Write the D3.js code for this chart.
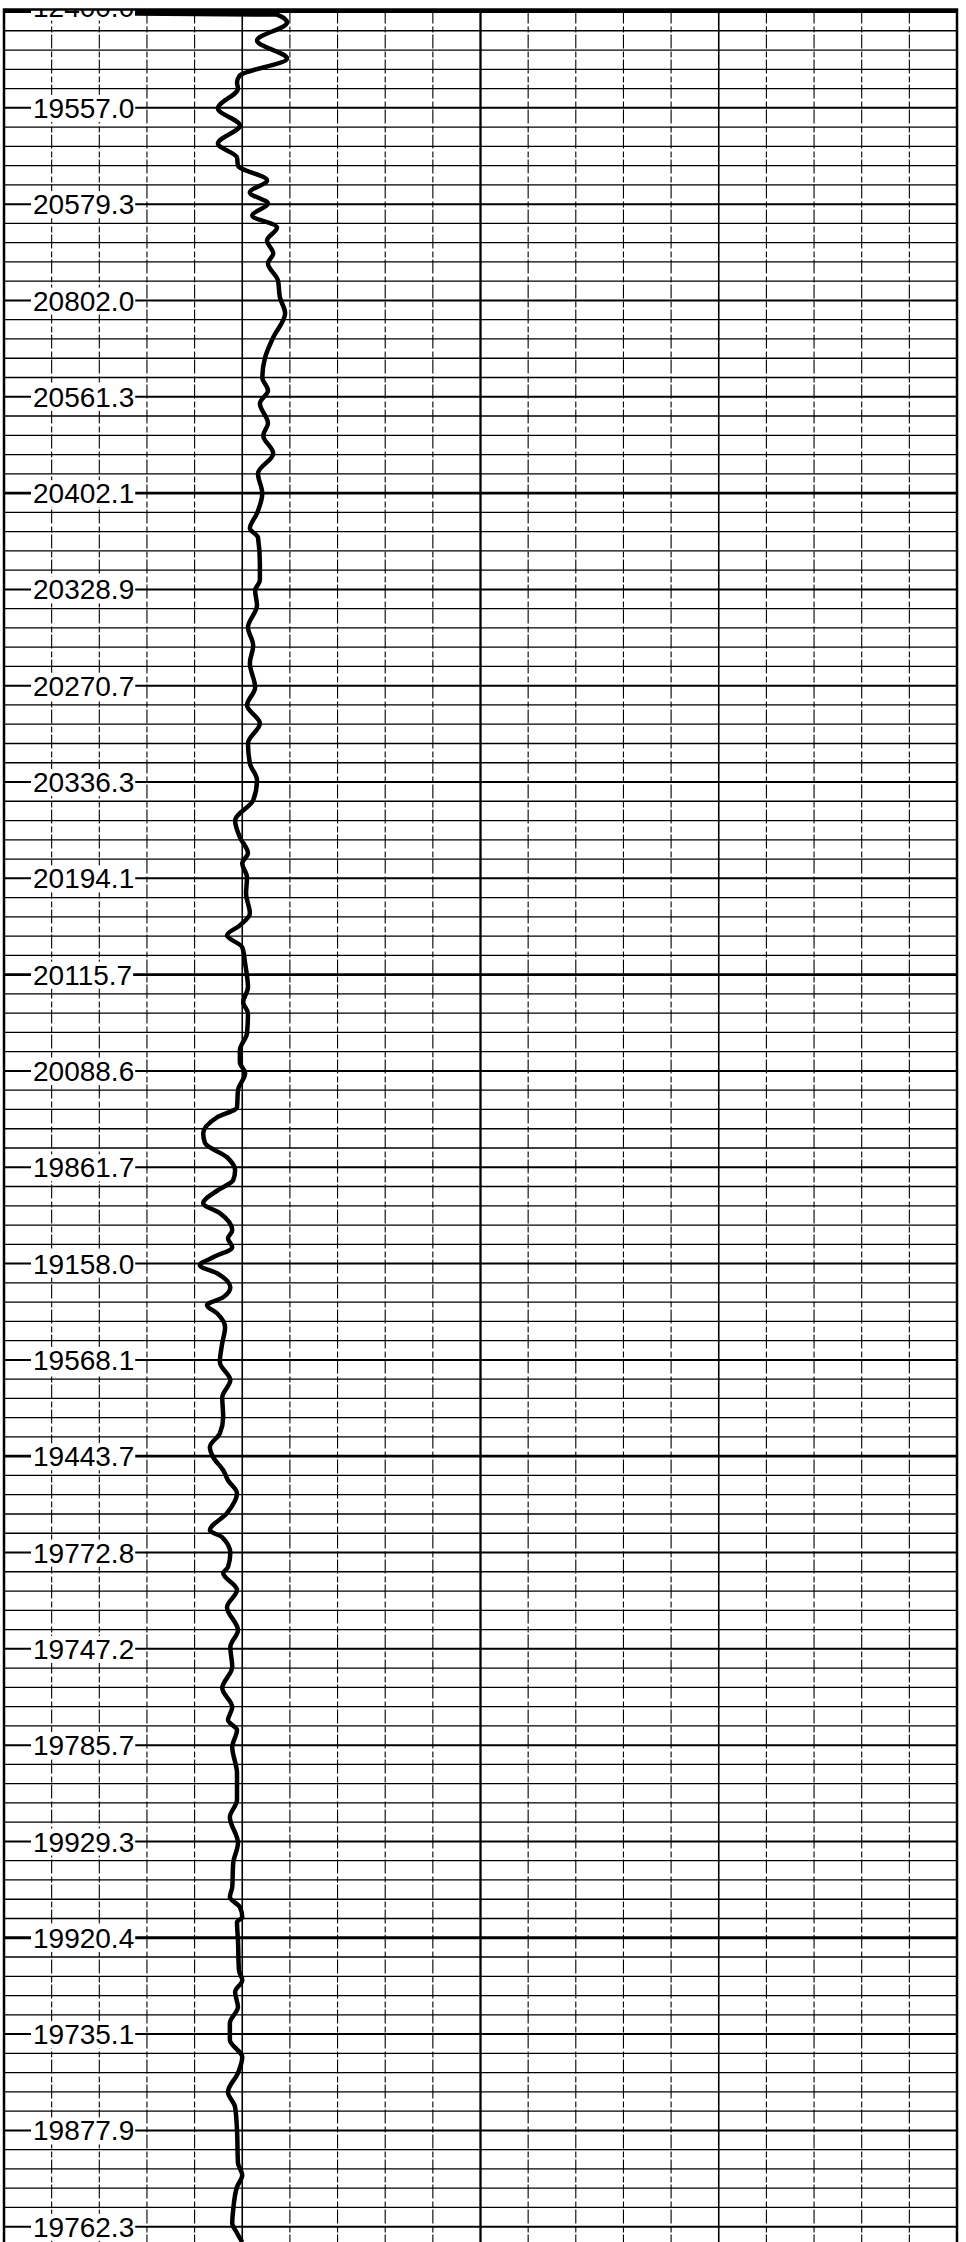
<!DOCTYPE html>
<html>
<head>
<meta charset="utf-8">
<script src="https://cdn.jsdelivr.net/npm/d3@7"></script>
<style>
	body { margin: 0; background: #fff; }
	svg { display: block; }
	.label { font-family: "Liberation Sans", Arial, sans-serif; font-size: 28px; fill: #000; }
</style>
</head>
<body>
<svg id="myGraph" width="966" height="2242"></svg>
<script>
// depth labels, one every 5 grid rows
var labelTexts = ["12400.0","19557.0","20579.3","20802.0","20561.3","20402.1","20328.9","20270.7",
	"20336.3","20194.1","20115.7","20088.6","19861.7","19158.0","19568.1","19443.7",
	"19772.8","19747.2","19785.7","19929.3","19920.4","19735.1","19877.9","19762.3"];

// curve: depth in grid rows, value on a 0-200 scale (10 per column)
var curveDepth = [0.10,0.16,0.57,1.51,2.44,3.32,3.69,4.00,5.03,5.92,
	6.85,7.58,8.00,8.77,9.39,9.97,10.59,11.21,11.89,12.56,
	13.08,13.96,14.84,15.67,16.92,17.96,19.00,19.67,20.35,21.38,
	22.01,22.94,23.98,25.02,26.05,26.83,27.30,28.65,29.53,30.05,
	30.83,31.97,32.91,33.84,35.09,36.02,36.95,37.99,39.03,39.91,
	40.95,42.00,42.87,43.70,44.22,44.95,45.78,46.82,47.44,47.96,
	48.58,49.41,50.66,51.43,52.01,53.04,53.93,54.55,55.12,56.00,
	56.89,57.41,58.24,58.75,59.48,60.15,60.67,61.19,61.87,62.38,
	63.27,63.69,64.15,64.67,65.09,65.50,66.23,66.75,67.16,67.58,
	68.30,69.13,70.12,71.05,71.94,72.98,73.81,74.53,75.05,75.73,
	76.25,76.92,77.96,78.85,79.21,80.03,80.76,81.07,81.95,82.84,
	84.03,84.91,85.95,87.04,88.03,88.70,89.22,90.10,91.45,92.85,
	93.74,95.08,96.12,97.37,97.89,98.41,98.93,99.19,100.12,101.68,
	102.20,102.82,103.60,104.43,105.31,106.19,107.02,108.01,108.79,109.98,
	111.70,112.32,112.94,114.13,114.81,115.33,115.80];
var curveValue = [27.5,57.3,59.4,53.1,59.4,49.5,48.9,49.1,44.9,49.5,
	44.9,48.9,49.1,55.2,51.6,55.4,52.1,57.3,55.2,56.5,
	55.4,57.5,57.9,59.0,56.5,54.8,54.2,55.4,53.7,55.4,
	54.4,56.5,53.3,54.2,53.1,51.6,53.3,53.7,53.7,52.7,
	53.1,51.2,52.3,51.6,52.7,51.0,53.7,51.2,51.6,53.1,
	52.3,48.5,49.5,51.2,50.0,51.0,50.8,51.6,49.5,46.8,
	50.0,50.6,51.2,50.2,51.2,51.0,49.5,49.5,50.6,49.1,
	48.9,44.7,41.8,42.2,46.8,48.5,48.1,44.9,41.8,45.3,
	47.9,47.0,47.9,43.9,41.1,44.7,47.5,46.0,42.6,44.7,
	46.4,45.8,45.3,47.5,45.8,46.0,45.3,43.2,43.9,46.0,
	47.0,48.9,46.8,43.2,45.8,47.5,47.0,46.0,48.9,46.8,
	49.1,47.5,47.9,45.8,47.9,47.0,48.9,47.9,48.9,48.9,
	47.4,49.1,48.1,47.9,47.4,49.5,50.0,48.9,49.1,49.3,
	50.0,48.5,49.1,47.4,47.4,50.0,49.1,47.0,48.5,48.9,
	49.1,50.0,48.9,48.1,47.9,48.9,50.0];

window.addEventListener("load", function(){

	var left = 4, right = 957, top = 9.5, bottom = 2242;

	var xScale = d3.scaleLinear().domain([0, 200]).range([left, right]);
	var yScale = d3.scaleLinear().domain([0, 115]).range([11.5, 2226.7]);

	var svg = d3.select("#myGraph");

	svg.append("defs").append("clipPath").attr("id", "plot")
		.append("rect")
		.attr("x", left).attr("y", top)
		.attr("width", right - left).attr("height", bottom - top);

	var g = svg.append("g").attr("clip-path", "url(#plot)");

	// horizontal grid (every row, heavier each 5 and 25 rows)
	g.selectAll("line.hgrid")
		.data(d3.range(0, 117))
		.enter().append("line")
		.attr("class", "hgrid")
		.attr("x1", left).attr("x2", right)
		.attr("y1", function(d){ return yScale(d); })
		.attr("y2", function(d){ return yScale(d); })
		.style("stroke", "#000")
		.style("stroke-width", function(d){
			if (d % 25 === 0) return 2.8;
			if (d % 5 === 0) return 2;
			return 1.3;
		});

	// vertical grid
	g.selectAll("line.vgrid")
		.data(d3.range(10, 200, 10))
		.enter().append("line")
		.attr("class", "vgrid")
		.attr("x1", function(d){ return xScale(d); })
		.attr("x2", function(d){ return xScale(d); })
		.attr("y1", top).attr("y2", bottom)
		.style("stroke", "#000")
		.style("stroke-width", function(d){
			if (d === 100) return 2.3;
			if (d % 50 === 0) return 1.6;
			return 1.1;
		})
		.style("stroke-dasharray", function(d){
			return d % 50 === 0 ? null : "14,3,6,2";
		});

	// depth labels on a white patch
	var labels = g.selectAll("g.lab")
		.data(labelTexts)
		.enter().append("g")
		.attr("class", "lab")
		.attr("transform", function(d, i){
			// the first label is half hidden under the top frame
			var y = yScale(i * 5) - (i === 0 ? 5 : 0);
			return "translate(33," + y + ")";
		});

	labels.append("text")
		.attr("class", "label")
		.attr("dy", "0.36em")
		.text(function(d){ return d; });

	labels.each(function(){
		var box = d3.select(this).select("text").node().getBBox();
		d3.select(this).insert("rect", "text")
			.attr("x", box.x - 2).attr("y", box.y + 2)
			.attr("width", box.width + 3).attr("height", box.height - 4)
			.style("fill", "#fff");
	});

	// the log curve
	var line = d3.line()
		.x(function(d){ return xScale(d[1]); })
		.y(function(d){ return yScale(d[0]); })
		.curve(d3.curveMonotoneY);

	g.append("path")
		.datum(d3.zip(curveDepth, curveValue))
		.attr("d", line)
		.style("fill", "none")
		.style("stroke", "#000")
		.style("stroke-width", 4.5)
		.style("stroke-linejoin", "round");

	// frame: top, left, right
	svg.append("path")
		.attr("d", "M" + left + "," + bottom + "V" + top + "H" + right + "V" + bottom)
		.style("fill", "none")
		.style("stroke", "#000")
		.style("stroke-width", 2.5);

});
</script>
</body>
</html>
